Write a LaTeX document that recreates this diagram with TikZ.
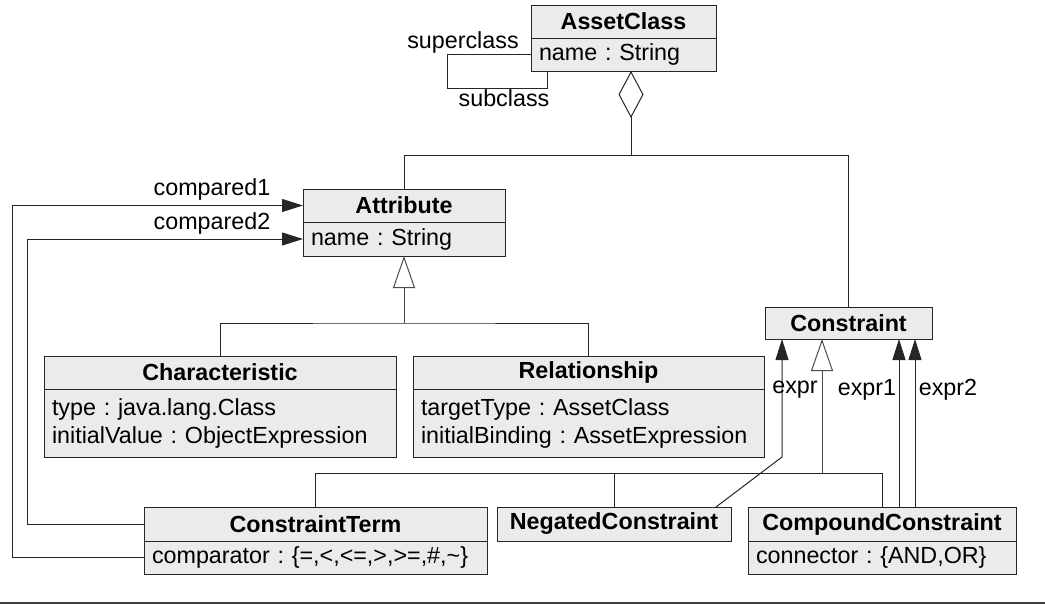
\documentclass[tikz,border=0pt]{standalone}
\usepackage{fontspec}
\setmainfont{Liberation Sans}
\usetikzlibrary{arrows.meta,calc}
\frenchspacing
\tikzset{
  umlbase/.style={draw=black!85, fill=gray!16, line width=1pt, anchor=north west, outer sep=0pt},
  hdr/.style={umlbase, inner sep=0pt, font=\fontsize{23.3}{28}\selectfont\bfseries},
  bdy/.style={umlbase, inner xsep=8pt, inner ysep=0pt, align=left, font=\fontsize{23.3}{28}\selectfont\frenchspacing},
  lbl/.style={inner sep=0pt, font=\fontsize{23.3}{28}\selectfont},
  conn/.style={line width=1pt, draw=black!85},
  assoc/.style={conn, -{Triangle[length=21pt,width=13pt]}},
  gen/.style={line width=1pt, draw=black!70, -{Triangle[length=32pt,width=22pt,fill=white]}},
  agg/.style={conn, -{Diamond[length=47pt,width=25pt,fill=white]}},
}
\begin{document}
\begin{tikzpicture}[x=1pt,y=-1pt]
\useasboundingbox (0,0) rectangle (1045,605);

% AssetClass
\node[hdr, minimum width=185pt, minimum height=33pt] (acH) at (531,5) {AssetClass};
\node[bdy, text width=169pt, minimum height=33pt] (acB) at (acH.south west) {name : String};

% Attribute
\node[hdr, minimum width=202pt, minimum height=33pt] (atH) at (303,189) {Attribute};
\node[bdy, text width=186pt, minimum height=34pt] (atB) at (atH.south west) {name : String};

% Characteristic
\node[hdr, minimum width=352pt, minimum height=33pt] (chH) at (44,356) {Characteristic};
\node[bdy, text width=336pt, minimum height=68pt] (chB) at (chH.south west) {type : java.lang.Class\\initialValue : ObjectExpression};

% Relationship
\node[hdr, minimum width=351pt, minimum height=33pt] (reH) at (413,356) {Relationship};
\node[bdy, text width=335pt, minimum height=68pt] (reB) at (reH.south west) {targetType : AssetClass\\initialBinding : AssetExpression};

% Constraint
\node[hdr, minimum width=167pt, minimum height=32pt] (co) at (765,307) {Constraint};

% ConstraintTerm
\node[hdr, minimum width=343pt, minimum height=34pt] (ctH) at (144,507) {ConstraintTerm};
\node[bdy, text width=327pt, minimum height=33pt] (ctB) at (ctH.south west) {comparator : \{=,<,<=,>,>=,\#,\textasciitilde\}};

% NegatedConstraint
\node[hdr, minimum width=234pt, minimum height=34pt] (ng) at (497,507) {NegatedConstraint};

% CompoundConstraint
\node[hdr, minimum width=268pt, minimum height=34pt] (ccH) at (748,507) {CompoundConstraint};
\node[bdy, text width=252pt, minimum height=33pt] (ccB) at (ccH.south west) {connector : \{AND,OR\}};

% helper coordinates
\coordinate (aggJ) at (631,155);
\coordinate (atGen) at (404,323);
\coordinate (coGen) at (822,473);
\coordinate (busR) at (882,473);
\coordinate (loop1) at (447,88);
\coordinate (loop2) at (547,71);
\coordinate (L1) at (12,0);
\coordinate (L2) at (27,0);
\coordinate (exprBend) at (782,457);
\coordinate (exprEnd) at (716,507);
\coordinate (e1) at (899,0);
\coordinate (e2) at (915,0);
\coordinate (ruleL) at (0,603);
\coordinate (ruleR) at (1045,603);

% self association
\draw[conn] (acB.west) -| (loop1) -| (loop2);
\node[lbl] (lsup) at (463,42) {superclass};
\node[lbl] (lsub) at (504,98) {subclass};

% aggregation
\draw[agg] (aggJ) -- (acB.south -| aggJ);
\draw[conn] (atH.north) |- (aggJ);
\draw[conn] (co.north) |- (aggJ);

% Attribute generalization
\draw[gen] (atGen) -- (atB.south);
\draw[conn] (chH.north) |- (atGen) -| (reH.north);

% Constraint generalization
\draw[gen] (coGen) -- (co.south -| coGen);
\draw[conn] (ctH.north) |- (busR) -- (ccH.north);
\draw[conn] (ng.north) -- (ng.north |- coGen);

% expr associations
\draw[assoc] (exprEnd) -- (exprBend) -- (co.south -| exprBend);
\draw[assoc] (ccH.north -| e1) -- (co.south -| e1);
\draw[assoc] (ccH.north -| e2) -- (co.south -| e2);
\node[lbl] (lexpr) at (795,390) {expr};
\node[lbl] (lexpr1) at (867,390) {expr1};
\node[lbl] (lexpr2) at (948,390) {expr2};

% compared associations
\draw[assoc] (ctB.west) -- (ctB.west -| L1) |- (atH.west);
\draw[assoc] (ctH.west) -- (ctH.west -| L2) |- (atB.west);
\node[lbl] (lc1) at (212,189) {compared1};
\node[lbl] (lc2) at (212,223) {compared2};

% bottom rule
\draw[line width=1.5pt, black!75] (ruleL) -- (ruleR);
\end{tikzpicture}
\end{document}
